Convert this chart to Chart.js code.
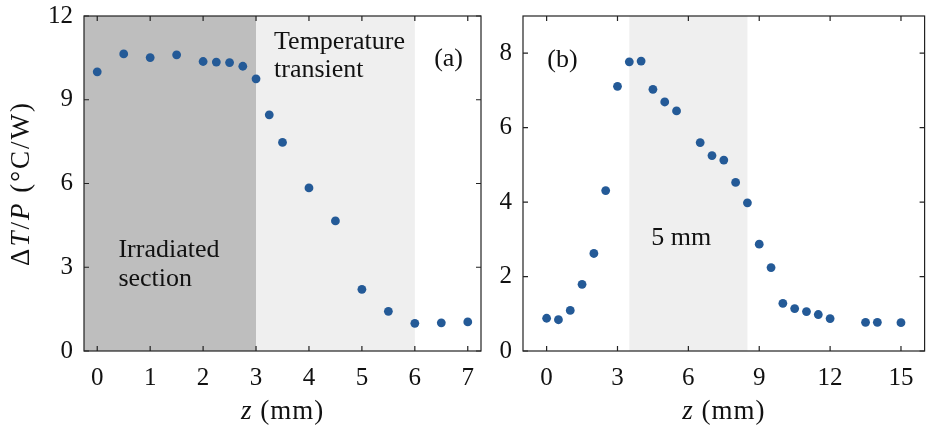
<!DOCTYPE html>
<html>
<head>
<meta charset="utf-8">
<script src="https://cdn.jsdelivr.net/npm/chart.js@4.4.0/dist/chart.umd.min.js"></script>
<style>
body{margin:0;background:#fff;}
#wrap{position:relative;width:929px;height:428px;}
canvas{position:absolute;top:0;}
</style>
</head>
<body>
<div id="wrap">
<canvas id="chartA" width="490" height="428" style="left:0"></canvas>
<canvas id="chartB" width="439" height="428" style="left:490px"></canvas>
</div>
<script>
// panel (a)
const zA = [0, 0.5, 1, 1.5, 2, 2.25, 2.5, 2.75, 3, 3.25, 3.5, 4, 4.5, 5, 5.5, 6, 6.5, 7];
const dTA = [10.0, 10.64, 10.51, 10.61, 10.37, 10.35, 10.33, 10.2, 9.75, 8.46, 7.47, 5.84, 4.66, 2.21, 1.42, 0.99, 1.01, 1.04];
const xTicksA = [0, 1, 2, 3, 4, 5, 6, 7];
const yTicksA = [0, 3, 6, 9, 12];

// panel (b)
const zB = [0, 0.5, 1, 1.5, 2, 2.5, 3, 3.5, 4, 4.5, 5, 5.5, 6.5, 7, 7.5, 8, 8.5, 9, 9.5, 10, 10.5, 11, 11.5, 12, 13.5, 14, 15];
const dTB = [0.88, 0.84, 1.09, 1.79, 2.62, 4.31, 7.11, 7.77, 7.79, 7.03, 6.69, 6.45, 5.60, 5.25, 5.13, 4.53, 3.98, 2.87, 2.24, 1.28, 1.14, 1.06, 0.98, 0.87, 0.77, 0.77, 0.76];
const xTicksB = [0, 3, 6, 9, 12, 15];
const yTicksB = [0, 2, 4, 6, 8];

const FONT = "'Liberation Serif', 'DejaVu Serif', serif";
const DOT = '#245a97';

function toPoints(xs, ys){
    return xs.map((x, i) => ({x: x, y: ys[i]}));
}

// shaded bands + text labels + frame with inward ticks
const decor = {
    id: 'decor',
    beforeDatasetsDraw(chart, args, opts){
        const ctx = chart.ctx, a = chart.chartArea;
        const x = chart.scales.x;
        ctx.save();
        opts.bands.forEach(b => {
            const x0 = Math.max(a.left, x.getPixelForValue(b.from));
            const x1 = Math.min(a.right, x.getPixelForValue(b.to));
            ctx.fillStyle = b.color;
            ctx.fillRect(x0, a.top, x1 - x0, a.bottom - a.top);
        });
        ctx.fillStyle = '#111';
        ctx.font = '26px ' + FONT;
        ctx.textBaseline = 'middle';
        opts.notes.forEach(n => {
            ctx.textAlign = n.align || 'left';
            ctx.fillText(n.text, x.getPixelForValue(n.x), chart.scales.y.getPixelForValue(n.y));
        });
        ctx.restore();
    },
    afterDraw(chart, args, opts){
        const ctx = chart.ctx, a = chart.chartArea;
        const x = chart.scales.x, y = chart.scales.y;
        const L = 5;
        ctx.save();
        ctx.strokeStyle = '#222';
        ctx.lineWidth = 1.2;
        ctx.strokeRect(a.left, a.top, a.right - a.left, a.bottom - a.top);
        ctx.beginPath();
        x.ticks.forEach(t => {
            const px = x.getPixelForValue(t.value);
            ctx.moveTo(px, a.bottom); ctx.lineTo(px, a.bottom - L);
            ctx.moveTo(px, a.top); ctx.lineTo(px, a.top + L);
        });
        y.ticks.forEach(t => {
            const py = y.getPixelForValue(t.value);
            ctx.moveTo(a.left, py); ctx.lineTo(a.left + L, py);
            ctx.moveTo(a.right, py); ctx.lineTo(a.right - L, py);
        });
        ctx.stroke();

        // x title: z (mm)
        ctx.fillStyle = '#111';
        ctx.textBaseline = 'middle';
        ctx.textAlign = 'left';
        drawRich(ctx, [['z', true], [' (mm)', false]], (a.left + a.right) / 2, 412, 27, 1);

        if (opts.yTitle){
            ctx.translate(22, (a.top + a.bottom) / 2);
            ctx.rotate(-Math.PI / 2);
            drawRich(ctx, [['\u0394', false], ['T', true], ['/', false], ['P', true], [' (\u00b0C/W)', false]], 0, 0, 27, 2);
        }
        ctx.restore();
    }
};

function drawRich(ctx, parts, cx, cy, size, spacing){
    ctx.letterSpacing = spacing + 'px';
    let total = 0;
    parts.forEach(p => {
        ctx.font = (p[1] ? 'italic ' : '') + size + 'px ' + FONT;
        total += ctx.measureText(p[0]).width;
    });
    let px = cx - total / 2;
    parts.forEach(p => {
        ctx.font = (p[1] ? 'italic ' : '') + size + 'px ' + FONT;
        ctx.fillText(p[0], px, cy);
        px += ctx.measureText(p[0]).width;
    });
    ctx.letterSpacing = '0px';
}

function makeChart(id, pts, xr, yr, xt, yt, yWidth, padRight, decorOpts){
    const tickFont = {family: FONT, size: 25};
    return new Chart(document.getElementById(id), {
        type: 'scatter',
        data: {
            datasets: [{
                data: pts,
                backgroundColor: DOT,
                borderWidth: 0,
                pointRadius: 4.4
            }]
        },
        options: {
            responsive: false,
            animation: false,
            devicePixelRatio: 1,
            layout: {padding: {top: 16, right: padRight, left: 0, bottom: 0}},
            plugins: {
                legend: {display: false},
                tooltip: {enabled: false},
                decor: decorOpts
            },
            scales: {
                x: {
                    type: 'linear', min: xr[0], max: xr[1],
                    grid: {display: false, drawTicks: false},
                    border: {display: false},
                    ticks: {font: tickFont, color: '#111', padding: 12, maxRotation: 0},
                    afterBuildTicks: s => { s.ticks = xt.map(v => ({value: v})); },
                    afterFit: s => { s.height = 77; s.paddingLeft = 0; s.paddingRight = 0; }
                },
                y: {
                    type: 'linear', min: yr[0], max: yr[1],
                    grid: {display: false, drawTicks: false},
                    border: {display: false},
                    ticks: {font: tickFont, color: '#111', padding: 11},
                    afterBuildTicks: s => { s.ticks = yt.map(v => ({value: v})); },
                    afterFit: s => { s.width = yWidth; s.paddingTop = 0; s.paddingBottom = 0; }
                }
            }
        },
        plugins: [decor]
    });
}

makeChart('chartA', toPoints(zA, dTA), [-0.25, 7.25], [0, 12], xTicksA, yTicksA, 84, 9, {
    yTitle: true,
    bands: [{from: -0.25, to: 3, color: '#bebebe'}, {from: 3, to: 6, color: '#efefef'}],
    notes: [
        {text: 'Temperature', x: 3.34, y: 11.07},
        {text: 'transient', x: 3.34, y: 10.06},
        {text: '(a)', x: 6.91, y: 10.46, align: 'right'},
        {text: 'Irradiated', x: 0.40, y: 3.62},
        {text: 'section', x: 0.40, y: 2.58}
    ]
});

makeChart('chartB', toPoints(zB, dTB), [-1, 16], [0, 9], xTicksB, yTicksB, 33, -1.4, {
    yTitle: false,
    bands: [{from: 3.5, to: 8.5, color: '#efefef'}],
    notes: [
        {text: '(b)', x: 0.03, y: 7.82},
        {text: '5 mm', x: 4.43, y: 3.02}
    ]
});
</script>
</body>
</html>
